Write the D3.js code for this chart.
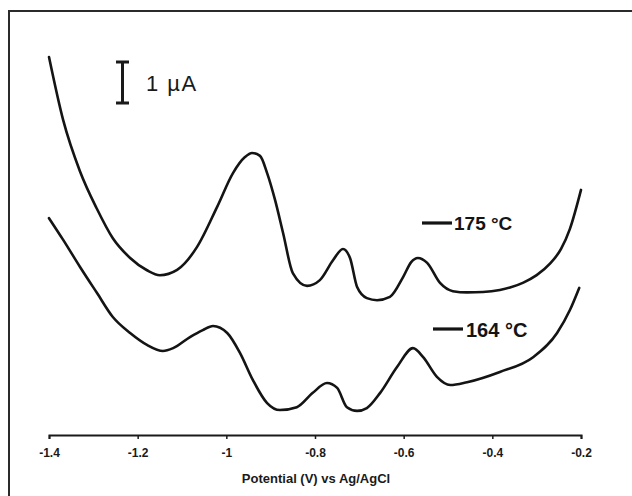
<!DOCTYPE html>
<html>
<head>
<meta charset="utf-8">
<script src="https://cdn.jsdelivr.net/npm/d3@7"></script>
<style>
  html, body { margin: 0; padding: 0; background: #fff; }
</style>
</head>
<body>
<div id="chart"></div>
<script>
// potential (V vs Ag/AgCl) and current (µA, arbitrary offset)
const potential175 = [-1.400, -1.368, -1.330, -1.292, -1.256, -1.217, -1.179, -1.150, -1.111, -1.066,
    -1.021, -0.985, -0.958, -0.942, -0.924, -0.908, -0.890, -0.872, -0.850, -0.818,
    -0.789, -0.759, -0.737, -0.721, -0.705, -0.683, -0.660, -0.631, -0.601, -0.583,
    -0.568, -0.547, -0.518, -0.489, -0.457, -0.421, -0.383, -0.360, -0.330, -0.300,
    -0.270, -0.245, -0.225, -0.200];
const current175 = [9.34, 7.80, 6.55, 5.64, 4.92, 4.44, 4.14, 4.02, 4.15, 4.71,
    5.68, 6.51, 6.90, 7.00, 6.93, 6.51, 5.85, 5.05, 4.07, 3.76,
    3.90, 4.39, 4.66, 4.44, 3.73, 3.46, 3.41, 3.49, 3.98, 4.34,
    4.44, 4.32, 3.83, 3.63, 3.60, 3.61, 3.66, 3.72, 3.84, 4.02,
    4.30, 4.66, 5.15, 6.10];

const potential164 = [-1.400, -1.368, -1.330, -1.292, -1.256, -1.217, -1.179, -1.143, -1.120, -1.082,
    -1.053, -1.030, -0.998, -0.969, -0.940, -0.908, -0.879, -0.841, -0.805, -0.773,
    -0.750, -0.728, -0.705, -0.683, -0.653, -0.615, -0.579, -0.556, -0.525, -0.495,
    -0.457, -0.383, -0.308, -0.254, -0.225, -0.204];
const current164 = [5.41, 4.88, 4.22, 3.59, 3.00, 2.61, 2.32, 2.17, 2.24, 2.51,
    2.68, 2.78, 2.61, 2.12, 1.46, 0.90, 0.73, 0.80, 1.15, 1.39,
    1.27, 0.80, 0.71, 0.78, 1.15, 1.78, 2.24, 2.02, 1.54, 1.34,
    1.41, 1.66, 2.02, 2.61, 3.17, 3.71];

const tickValues = [-1.4, -1.2, -1.0, -0.8, -0.6, -0.4, -0.2];
const tickLabels = ["-1.4", "-1.2", "-1", "-0.8", "-0.6", "-0.4", "-0.2"];
const seriesNames = ["175 °C", "164 °C"];
const scaleBarValue = 1; // µA

const width = 632, height = 496;

let svg = d3.select("#chart")
    .append("svg")
    .attr("width", width)
    .attr("height", height)
    .style("background-color", "#fff");

let x = d3.scaleLinear().domain([-1.4, -0.2]).range([49, 581]);
let y = d3.scaleLinear().domain([0, 10]).range([440, 30]);

// frame (open at right and bottom like the scan)
svg.append("path")
    .attr("d", "M9," + height + "L9,11L" + width + ",11")
    .attr("fill", "none")
    .attr("stroke", "#2b2b2b")
    .attr("stroke-width", 2);

// x axis
let axis = svg.append("g")
    .attr("transform", "translate(0,435)")
    .call(d3.axisBottom(x)
        .tickValues(tickValues)
        .tickFormat((d, i) => tickLabels[i])
        .tickSize(4)
        .tickSizeOuter(4));
axis.select(".domain").attr("stroke", "#1a1a1a").attr("stroke-width", 2);
axis.selectAll(".tick line").attr("stroke", "#1a1a1a").attr("stroke-width", 1.5);
axis.selectAll(".tick text")
    .attr("y", 13)
    .attr("font-family", "'Liberation Sans', Arial, sans-serif")
    .attr("font-weight", "bold")
    .attr("font-size", "12px")
    .attr("fill", "#1a1a1a");

svg.append("text")
    .attr("x", 316)
    .attr("y", 483)
    .attr("text-anchor", "middle")
    .attr("font-family", "'Liberation Sans', Arial, sans-serif")
    .attr("font-weight", "bold")
    .attr("font-size", "13px")
    .attr("fill", "#1a1a1a")
    .text("Potential (V) vs Ag/AgCl");

// curves
let line = d3.line()
    .x(d => x(d[0]))
    .y(d => y(d[1]))
    .curve(d3.curveMonotoneX);

let series = [
    d3.zip(potential175, current175),
    d3.zip(potential164, current164)
];

svg.append("g")
    .selectAll("path")
    .data(series)
    .enter()
    .append("path")
    .attr("d", line)
    .attr("fill", "none")
    .attr("stroke", "#141414")
    .attr("stroke-width", 2.6)
    .attr("stroke-linejoin", "round")
    .attr("stroke-linecap", "round");

// labels with line markers
let labelPos = [{lx: 422, ly: 223, tx: 454, ty: 230, fs: 19}, {lx: 433, ly: 329, tx: 466, ty: 337, fs: 20}];
for (let i = 0; i < seriesNames.length; i++) {
    let p = labelPos[i];
    svg.append("line")
        .attr("x1", p.lx).attr("x2", p.lx + 30)
        .attr("y1", p.ly).attr("y2", p.ly)
        .attr("stroke", "#141414")
        .attr("stroke-width", 3.2);
    svg.append("text")
        .attr("x", p.tx)
        .attr("y", p.ty)
        .attr("font-family", "'Liberation Sans', Arial, sans-serif")
        .attr("font-weight", "bold")
        .attr("font-size", p.fs + "px")
        .attr("fill", "#141414")
        .text(seriesNames[i]);
}

// 1 µA scale bar
let barBottom = 103, barTop = barBottom - (y(0) - y(scaleBarValue));
svg.append("path")
    .attr("d", "M116," + barTop + "H129M122.5," + barTop + "V" + barBottom + "M116," + barBottom + "H129")
    .attr("fill", "none")
    .attr("stroke", "#1a1a1a")
    .attr("stroke-width", 3);

svg.append("text")
    .attr("x", 146)
    .attr("y", 91)
    .attr("font-family", "'Liberation Sans', Arial, sans-serif")
    .attr("font-size", "22px")
    .attr("letter-spacing", "1.5px")
    .attr("fill", "#1a1a1a")
    .text(scaleBarValue + " µA");
</script>
</body>
</html>
